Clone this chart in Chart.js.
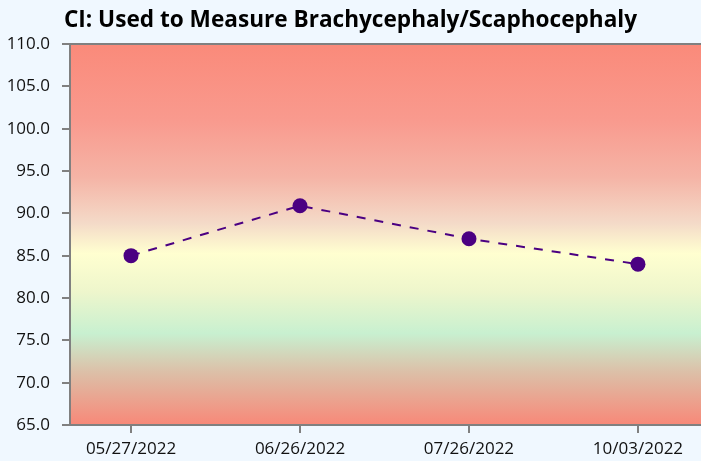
<!DOCTYPE html>
<html>
<head>
<meta charset="utf-8">
<script src="https://cdn.jsdelivr.net/npm/chart.js@4"></script>
<style>
html,body{margin:0;padding:0;background:#f0f8ff;}
#wrap{width:701px;height:461px;}
</style>
</head>
<body>
<div id="wrap"><canvas id="c" width="701" height="461"></canvas></div>
<script>
const categories = ["05/27/2022", "06/26/2022", "07/26/2022", "10/03/2022"];
const ciValues = [85.0, 90.9, 87.0, 84.0];
const yTicks = [65, 70, 75, 80, 85, 90, 95, 100, 105, 110];
const chartTitle = "CI: Used to Measure Brachycephaly/Scaphocephaly";

const bgPlugin = {
  id: 'bgPlugin',
  afterLayout(chart) {
    const a = chart.chartArea;
    const xs = chart.scales.x;
    const W = chart.width;
    if (a.right < W) {
      a.right = W;
      a.width = a.right - a.left;
      xs.right = W;
      xs.width = xs.right - xs.left;
      xs.configure();
    }
  },
  beforeDraw(chart) {
    const {ctx, chartArea: a} = chart;
    const g = ctx.createLinearGradient(0, a.top, 0, a.bottom);
    g.addColorStop(0.00, '#fa8a7a');
    g.addColorStop(0.20, '#f99a8e');
    g.addColorStop(0.35, '#f5b4a6');
    g.addColorStop(0.47, '#f4dac8');
    g.addColorStop(0.55, '#ffffd0');
    g.addColorStop(0.65, '#eef6cc');
    g.addColorStop(0.76, '#c8f0d0');
    g.addColorStop(0.86, '#dcc0a8');
    g.addColorStop(1.00, '#f88878');
    ctx.save();
    ctx.fillStyle = g;
    ctx.fillRect(a.left, a.top, a.right - a.left, a.bottom - a.top);
    ctx.restore();
  },
  afterDatasetsDraw(chart) {
    const {ctx, chartArea: a} = chart;
    ctx.save();
    ctx.strokeStyle = '#808080';
    ctx.lineWidth = 2;
    ctx.beginPath();
    ctx.moveTo(a.left, a.top);
    ctx.lineTo(a.right, a.top);
    ctx.stroke();
    ctx.restore();
  }
};

new Chart(document.getElementById('c'), {
  type: 'line',
  data: {
    datasets: [{
      data: ciValues.map((v, i) => ({x: i, y: v})),
      borderColor: '#4b0082',
      backgroundColor: '#4b0082',
      borderWidth: 2,
      borderDash: [9, 9],
      pointRadius: 7.5,
      pointHoverRadius: 7.5,
      pointBackgroundColor: '#4b0082',
      pointBorderWidth: 0,
      tension: 0
    }]
  },
  plugins: [bgPlugin],
  options: {
    responsive: false,
    animation: false,
    layout: {autoPadding: false, padding: {left: 0, right: 0, top: 0, bottom: 0}},
    plugins: {
      legend: {display: false},
      tooltip: {enabled: false},
      title: {
        display: true,
        text: chartTitle,
        color: '#000',
        font: {family: 'Open Sans', size: 22.6, weight: 'bold', lineHeight: 1.2},
        padding: {top: 7, bottom: 9.9}
      }
    },
    scales: {
      x: {
        type: 'linear',
        min: -0.361,
        max: 3.373,
        afterBuildTicks(scale) { scale.ticks = categories.map((c, i) => ({value: i})); },
        afterFit(scale) { scale.height = 36; scale.paddingRight = 0; scale.paddingLeft = 0; },
        ticks: {
          callback: (v) => categories[v],
          color: '#111',
          font: {family: 'Open Sans', size: 17},
          maxRotation: 0,
          padding: 6
        },
        grid: {drawOnChartArea: false, color: '#808080', tickLength: 8, lineWidth: 2},
        border: {color: '#808080', width: 2}
      },
      y: {
        min: 65,
        max: 110,
        afterBuildTicks(scale) { scale.ticks = yTicks.map(v => ({value: v})); },
        afterFit(scale) { scale.width = 70; scale.paddingTop = 0; scale.paddingBottom = 0; },
        ticks: {
          callback: (v) => Number(v).toFixed(1),
          color: '#111',
          font: {family: 'Open Sans', size: 17},
          padding: 12
        },
        grid: {drawOnChartArea: false, color: '#808080', tickLength: 8, lineWidth: 2},
        border: {color: '#808080', width: 2}
      }
    }
  }
});
</script>
</body>
</html>
